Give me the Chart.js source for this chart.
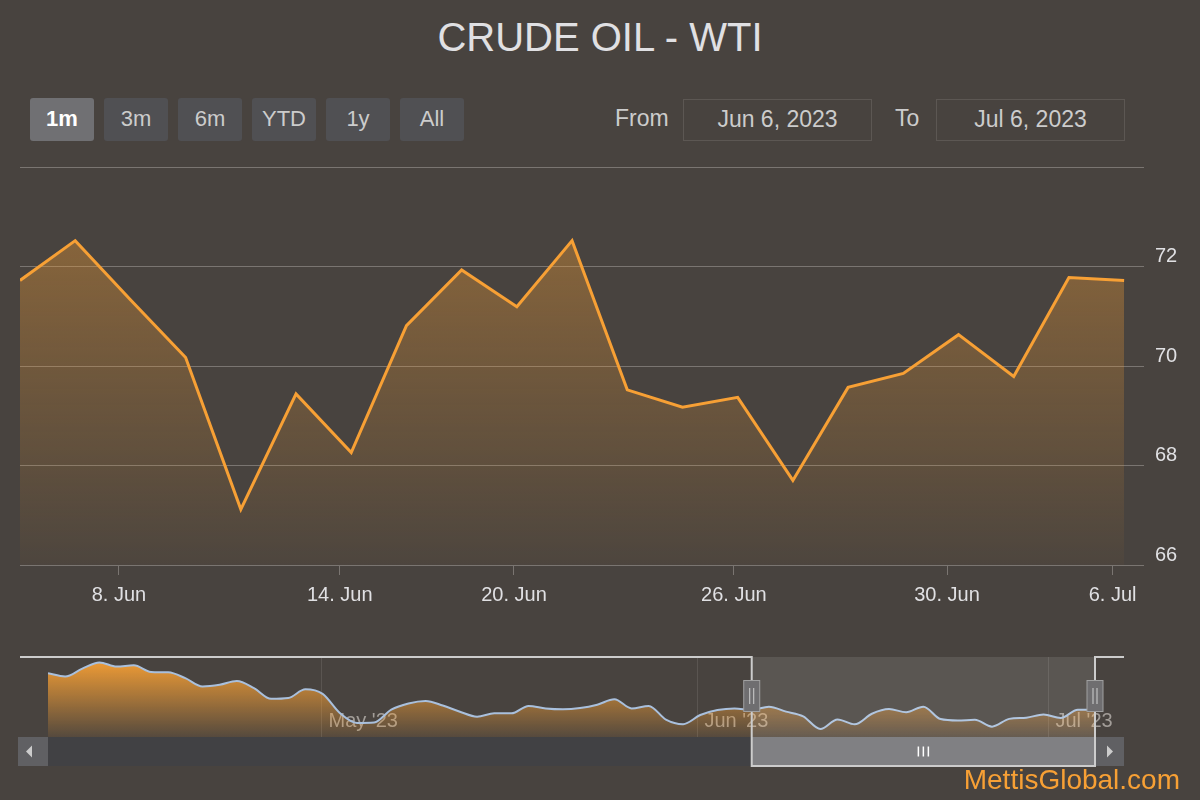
<!DOCTYPE html>
<html>
<head>
<meta charset="utf-8">
<script src="https://cdn.jsdelivr.net/npm/chart.js@4.4.0/dist/chart.umd.min.js"></script>
<style>
  body { margin: 0; background: #48433f; font-family: "Liberation Sans", Arial, sans-serif; }
  #wrap { position: relative; width: 1200px; height: 800px; overflow: hidden; background: #48433f; }
  #title { position: absolute; left: 0; top: 17px; width: 1200px; text-align: center;
    font-size: 40px; line-height: 40px; color: #e0e0e3; }
  .btn { position: absolute; top: 98px; width: 64px; height: 43px; line-height: 41px; text-align: center;
    background: #505053; color: #cccccc; font-size: 22px; border-radius: 3px; }
  .btn.active { background: #707073; color: #ffffff; font-weight: bold; }
  .lbl { position: absolute; top: 98px; height: 42px; line-height: 40px; color: #cccccc; font-size: 23px; }
  .box { position: absolute; top: 99px; height: 40px; line-height: 38px; width: 187px; text-align: center;
    border: 1px solid #5c5753; color: #cccccc; font-size: 23px; }
  canvas { position: absolute; left: 0; }
  #main { top: 0; }
  #nav { top: 640px; }
  #mark { position: absolute; right: 20px; top: 766px; font-size: 28px; line-height: 28px; color: #f7a035; }
</style>
</head>
<body>
<div id="wrap">
  <div id="title">CRUDE OIL - WTI</div>
  <div id="buttons"></div>
  <div class="lbl" style="left:615px">From</div>
  <div class="box" style="left:683px" id="fromBox"></div>
  <div class="lbl" style="left:895px">To</div>
  <div class="box" style="left:936px" id="toBox"></div>
  <canvas id="main" width="1200" height="640"></canvas>
  <canvas id="nav" width="1200" height="160"></canvas>
  <div id="mark">MettisGlobal.com</div>
</div>
<script>
// daily closes shown in the main chart (Jun 6 - Jul 6 2023)
const mainDates = ['2023-06-06','2023-06-07','2023-06-08','2023-06-09','2023-06-12','2023-06-13','2023-06-14',
  '2023-06-15','2023-06-16','2023-06-20','2023-06-21','2023-06-22','2023-06-23','2023-06-26','2023-06-27',
  '2023-06-28','2023-06-29','2023-06-30','2023-07-03','2023-07-05','2023-07-06'];
const mainCloses = [71.72, 72.52, 71.33, 70.17, 67.12, 69.44, 68.26, 70.81, 71.93, 71.19, 72.52,
  69.52, 69.17, 69.37, 67.70, 69.57, 69.85, 70.63, 69.79, 71.78, 71.72];

// earlier closes only visible in the navigator (Apr 6 - Jun 5 2023)
const earlierDates = ['2023-04-06','2023-04-10','2023-04-11','2023-04-12','2023-04-13','2023-04-14','2023-04-17',
  '2023-04-18','2023-04-19','2023-04-20','2023-04-21','2023-04-24','2023-04-25','2023-04-26','2023-04-27',
  '2023-04-28','2023-05-01','2023-05-02','2023-05-03','2023-05-04','2023-05-05','2023-05-08','2023-05-09',
  '2023-05-10','2023-05-11','2023-05-12','2023-05-15','2023-05-16','2023-05-17','2023-05-18','2023-05-19',
  '2023-05-22','2023-05-23','2023-05-24','2023-05-25','2023-05-26','2023-05-30','2023-05-31','2023-06-01',
  '2023-06-02','2023-06-05'];
const earlierCloses = [80.6, 79.8, 81.7, 83.2, 82.2, 82.5, 80.9, 80.8, 79.4, 77.4, 77.8, 78.7, 77.0, 74.4, 74.6, 76.7,
  75.6, 71.0, 68.6, 68.7, 71.8, 73.3, 73.9, 72.8, 71.3, 70.1, 70.9, 70.9, 72.7, 72.1, 71.9, 72.2, 73.0, 74.3,
  72.1, 72.7, 69.4, 68.3, 70.5, 71.7, 72.1];

const mainTicks = ['2023-06-08','2023-06-14','2023-06-20','2023-06-26','2023-06-30','2023-07-06'];
const navTicks = ['2023-05-01','2023-06-01','2023-07-01'];
const rangeButtons = ['1m','3m','6m','YTD','1y','All'];
const activeRange = '1m';

const MONTHS = ['Jan','Feb','Mar','Apr','May','Jun','Jul','Aug','Sep','Oct','Nov','Dec'];
const POINT_HOUR = 5; // points are stamped a few hours after midnight
const FONT = '"Liberation Sans", Arial, sans-serif';
const GRID = '#7a7571';
const navDates = earlierDates.concat(mainDates);
const navCloses = earlierCloses.concat(mainCloses);

// position of a calendar date on an ordinal (trading day) axis
function ordinalIndex(dates, iso) {
  const pts = dates.map(d => Date.parse(d + 'T00:00:00Z') + POINT_HOUR * 3600000);
  const t = Date.parse(iso + 'T00:00:00Z');
  for (let i = 0; i < pts.length - 1; i++) {
    if (t >= pts[i] && t <= pts[i + 1]) return i + (t - pts[i]) / (pts[i + 1] - pts[i]);
  }
  return t < pts[0] ? 0 : pts.length - 1;
}
function fmtDay(iso) { const d = new Date(iso + 'T00:00:00Z'); return d.getUTCDate() + '. ' + MONTHS[d.getUTCMonth()]; }
function fmtMonth(iso) { const d = new Date(iso + 'T00:00:00Z'); return MONTHS[d.getUTCMonth()] + " '" + String(d.getUTCFullYear()).slice(2); }
function fmtLong(iso) { const d = new Date(iso + 'T00:00:00Z'); return MONTHS[d.getUTCMonth()] + ' ' + d.getUTCDate() + ', ' + d.getUTCFullYear(); }

const btnBox = document.getElementById('buttons');
rangeButtons.forEach((b, i) => {
  const el = document.createElement('div');
  el.className = 'btn' + (b === activeRange ? ' active' : '');
  el.style.left = (30 + i * 74) + 'px';
  el.textContent = b;
  btnBox.appendChild(el);
});
document.getElementById('fromBox').textContent = fmtLong(mainDates[0]);
document.getElementById('toBox').textContent = fmtLong(mainDates[mainDates.length - 1]);

// main chart
new Chart(document.getElementById('main').getContext('2d'), {
  type: 'line',
  data: {
    datasets: [{
      data: mainCloses.map((v, i) => ({ x: i, y: v })),
      borderColor: '#f7a035',
      borderWidth: 3,
      pointRadius: 0,
      tension: 0,
      fill: 'start',
      backgroundColor: (c) => {
        const chart = c.chart;
        if (!chart.chartArea) return 'rgba(247,160,53,0.2)';
        const top = chart.scales.y.getPixelForValue(Math.max(...mainCloses));
        const g = chart.ctx.createLinearGradient(0, top, 0, chart.chartArea.bottom);
        g.addColorStop(0, 'rgba(247,160,53,0.36)');
        g.addColorStop(1, 'rgba(247,160,53,0.03)');
        return g;
      }
    }]
  },
  options: {
    responsive: false,
    animation: false,
    layout: { padding: { left: 20, top: 167, right: 0, bottom: 0 } },
    plugins: { legend: { display: false }, tooltip: { enabled: false } },
    scales: {
      x: {
        type: 'linear',
        min: 0,
        max: mainCloses.length - 1 + 0.36,
        afterBuildTicks: (axis) => { axis.ticks = mainTicks.map(d => ({ value: ordinalIndex(mainDates, d) })); },
        afterFit: (s) => { s.height = 75; },
        grid: { drawOnChartArea: false, color: GRID, tickLength: 10 },
        border: { display: false },
        ticks: { color: '#e0e0e3', font: { size: 20, family: FONT }, padding: 8, maxRotation: 0, autoSkip: false,
          callback: (v, i) => fmtDay(mainTicks[i]) }
      },
      y: {
        position: 'right',
        min: 66,
        max: 74,
        afterFit: (s) => { s.width = 56; },
        grid: { color: GRID, drawTicks: false },
        border: { display: false },
        ticks: { stepSize: 2, color: '#e0e0e3', font: { size: 20, family: FONT }, padding: 11, labelOffset: -10,
          callback: (v) => (v === 74 ? '' : v) }
      }
    }
  }
});

// navigator chrome: month grid, mask, handles, scrollbar, outline
const navChrome = {
  id: 'navChrome',
  beforeDatasetsDraw(chart) {
    const { ctx, chartArea, scales } = chart;
    ctx.save();
    navTicks.forEach(d => {
      const x = Math.round(scales.x.getPixelForValue(ordinalIndex(navDates, d))) + 0.5;
      ctx.strokeStyle = '#5a5551';
      ctx.lineWidth = 1;
      ctx.beginPath(); ctx.moveTo(x, chartArea.top); ctx.lineTo(x, chartArea.bottom); ctx.stroke();
      ctx.fillStyle = '#a29d98';
      ctx.font = '20px ' + FONT;
      ctx.textBaseline = 'alphabetic';
      ctx.fillText(fmtMonth(d), x + 7, chartArea.bottom - 10);
    });
    ctx.restore();
  },
  afterDraw(chart) {
    const { ctx, chartArea, scales } = chart;
    const xs = scales.x.getPixelForValue(earlierDates.length);
    const xe = scales.x.getPixelForValue(navDates.length - 1);
    const top = chartArea.top, bot = chartArea.bottom, sbH = 29;
    ctx.save();
    // selected range mask
    ctx.fillStyle = 'rgba(255,255,255,0.1)';
    ctx.fillRect(xs, top, xe - xs, bot - top);
    // scrollbar track, buttons and thumb
    ctx.fillStyle = '#414144';
    ctx.fillRect(chartArea.left, bot, chartArea.right - chartArea.left, sbH);
    ctx.fillStyle = '#606063';
    ctx.fillRect(chartArea.left - 30, bot, 30, sbH);
    ctx.fillRect(chartArea.right, bot, 29, sbH);
    ctx.fillStyle = '#cccccc';
    const my = bot + sbH / 2;
    ctx.beginPath(); ctx.moveTo(chartArea.left - 16, my - 6); ctx.lineTo(chartArea.left - 16, my + 6); ctx.lineTo(chartArea.left - 22, my); ctx.fill();
    ctx.beginPath(); ctx.moveTo(chartArea.right + 12, my - 6); ctx.lineTo(chartArea.right + 12, my + 6); ctx.lineTo(chartArea.right + 18, my); ctx.fill();
    ctx.fillStyle = '#808083';
    ctx.fillRect(xs, bot, xe - xs, sbH);
    ctx.strokeStyle = '#ffffff';
    ctx.lineWidth = 1.5;
    const gx = (xs + xe) / 2;
    [-5, 0, 5].forEach(o => { ctx.beginPath(); ctx.moveTo(gx + o, my - 5); ctx.lineTo(gx + o, my + 5); ctx.stroke(); });
    // outline
    ctx.strokeStyle = '#cccccc';
    ctx.lineWidth = 2;
    ctx.beginPath();
    ctx.moveTo(20, top); ctx.lineTo(xs, top); ctx.lineTo(xs, bot + sbH); ctx.lineTo(xe, bot + sbH);
    ctx.lineTo(xe, top); ctx.lineTo(chartArea.right + 29, top);
    ctx.stroke();
    // handles
    [xs, xe].forEach(x => {
      ctx.fillStyle = '#6f6e70';
      ctx.strokeStyle = '#a0a0a0';
      ctx.lineWidth = 1;
      ctx.fillRect(x - 8, top + 23.5, 16, 31);
      ctx.strokeRect(x - 8, top + 23.5, 16, 31);
      ctx.strokeStyle = '#d0d0d0';
      [-2, 2].forEach(o => { ctx.beginPath(); ctx.moveTo(x + o, top + 31); ctx.lineTo(x + o, top + 47); ctx.stroke(); });
    });
    ctx.restore();
  }
};

new Chart(document.getElementById('nav').getContext('2d'), {
  type: 'line',
  data: {
    datasets: [{
      data: navCloses.map((v, i) => ({ x: i, y: v })),
      borderColor: '#a9c0dd',
      borderWidth: 2,
      pointRadius: 0,
      cubicInterpolationMode: 'monotone',
      fill: 'start',
      backgroundColor: (c) => {
        const chart = c.chart;
        if (!chart.chartArea) return 'rgba(247,160,53,0.5)';
        const g = chart.ctx.createLinearGradient(0, chart.chartArea.top, 0, chart.chartArea.bottom);
        g.addColorStop(0, 'rgba(247,160,53,1)');
        g.addColorStop(1, 'rgba(247,160,53,0.08)');
        return g;
      }
    }]
  },
  options: {
    responsive: false,
    animation: false,
    layout: { padding: { left: 48, right: 105, top: 17, bottom: 63 } },
    plugins: { legend: { display: false }, tooltip: { enabled: false } },
    scales: {
      x: { type: 'linear', display: false, min: 0, max: navCloses.length - 1 },
      y: { display: false, min: 65.2, max: 84.5 }
    }
  },
  plugins: [navChrome]
});
</script>
</body>
</html>
